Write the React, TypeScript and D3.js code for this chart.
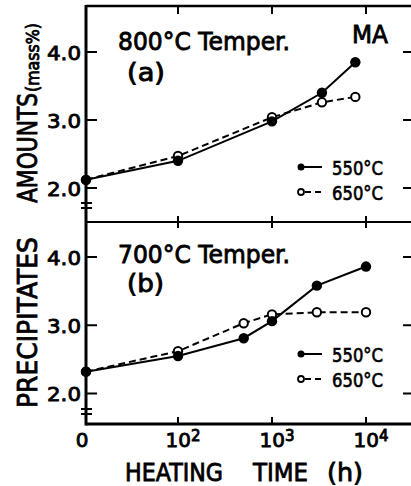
import React from "react";
import * as d3 from "d3";

// ---- data ----
const timesA = [0, 100, 1000, 3400, 7700];
const a550 = [2.12, 2.40, 2.98, 3.40, 3.85];
const a650 = [2.12, 2.47, 3.04, 3.26, 3.34];

const timesB = [0, 100, 500, 1000, 3000, 10000];
const b550 = [2.32, 2.55, 2.81, 3.06, 3.58, 3.86];
const b650 = [2.32, 2.62, 3.03, 3.16, 3.19, 3.19];

const yTicks = [2, 3, 4];
const yTickLabels = ["2.0", "3.0", "4.0"];
const xTicks = [100, 1000, 10000];
const xTickExp = ["2", "3", "4"];
const seriesNames = ["550°C", "650°C"];

const W = 411;
const H = 486;
const X0 = 86; // left axis (time = 0)
const XR = 413; // right frame
const TOP = 6;
const MID = 222;
const BOT = 424;

const xLog = d3.scaleLog().domain([100, 10000]).range([178, 366]);
const xPos = (t: number) => (t === 0 ? X0 : xLog(t));
const yTop = d3.scaleLinear().domain([2, 4]).range([188, 52]);
const yBot = d3.scaleLinear().domain([2, 4]).range([393.5, 257]);

const FONT = "'DejaVu Sans', sans-serif";
const TS = 0.85; // text stroke to thicken glyphs

function Series({ times, vals, y, filled }: { times: number[]; vals: number[]; y: any; filled: boolean }) {
  const line = d3
    .line<number>()
    .x((_, i) => xPos(times[i]))
    .y((v) => y(v));
  return (
    <g>
      <path
        d={line(vals) || ""}
        fill="none"
        stroke="#000"
        strokeWidth={2}
        strokeDasharray={filled ? undefined : "7,4"}
      />
      {vals.map((v, i) =>
        filled ? (
          <circle key={i} cx={xPos(times[i])} cy={y(v)} r={5.2} fill="#000" />
        ) : (
          <circle key={i} cx={xPos(times[i])} cy={y(v)} r={4.2} fill="#fff" stroke="#000" strokeWidth={2} />
        )
      )}
    </g>
  );
}

function Panel({ y, breakY }: { y: any; breakY: number[] }) {
  return (
    <g>
      {yTicks.map((t, i) => (
        <g key={"yt" + i}>
          <line x1={X0} x2={X0 + 11} y1={y(t)} y2={y(t)} stroke="#000" strokeWidth={2} />
          <line x1={XR - 10} x2={XR} y1={y(t)} y2={y(t)} stroke="#000" strokeWidth={2} />
          <text
            x={81}
            y={y(t) + 7.5}
            textAnchor="end"
            fontSize={20}
            fontFamily={FONT}
            stroke="#000"
            strokeWidth={TS}
            textLength={34}
            lengthAdjust="spacingAndGlyphs"
          >
            {yTickLabels[i]}
          </text>
        </g>
      ))}
      {breakY.map((b, i) => (
        <line key={"br" + i} x1={X0 - 5} x2={X0 + 6} y1={b} y2={b} stroke="#000" strokeWidth={2} />
      ))}
    </g>
  );
}

export default function App() {
  return (
    <svg
      width={W}
      height={H}
      viewBox={`0 0 ${W} ${H}`}
      style={{ position: "absolute", left: 0, top: 0, background: "#fff" }}
    >
      <rect x={0} y={0} width={W} height={H} fill="#fff" />
      {/* frame */}
      <line x1={X0} x2={XR} y1={TOP} y2={TOP} stroke="#000" strokeWidth={2.5} />
      <line x1={X0} x2={XR} y1={MID} y2={MID} stroke="#000" strokeWidth={2} />
      <line x1={X0} x2={XR} y1={BOT} y2={BOT} stroke="#000" strokeWidth={3} />
      <line x1={X0} x2={X0} y1={TOP - 1} y2={BOT + 1.5} stroke="#000" strokeWidth={3} />
      <line x1={XR} x2={XR} y1={TOP} y2={BOT} stroke="#000" strokeWidth={2} />

      {/* x ticks */}
      {xTicks.map((t, i) => (
        <g key={"xt" + i}>
          <line x1={xLog(t)} x2={xLog(t)} y1={TOP} y2={TOP + 8} stroke="#000" strokeWidth={2} />
          <line x1={xLog(t)} x2={xLog(t)} y1={MID - 6} y2={MID + 6} stroke="#000" strokeWidth={2} />
          <line x1={xLog(t)} x2={xLog(t)} y1={BOT - 7} y2={BOT} stroke="#000" strokeWidth={2} />
          <text
            x={xLog(t) - 12.5}
            y={447}
            fontSize={20}
            fontFamily={FONT}
            stroke="#000"
            strokeWidth={TS}
          >
            10
            <tspan dy={-6} fontSize={15}>
              {xTickExp[i]}
            </tspan>
          </text>
        </g>
      ))}
      <text x={82} y={447} textAnchor="middle" fontSize={20} fontFamily={FONT} stroke="#000" strokeWidth={TS}>
        0
      </text>

      <Panel y={yTop} breakY={[203, 208]} />
      <Panel y={yBot} breakY={[409, 414]} />

      {/* series */}
      <Series times={timesA} vals={a650} y={yTop} filled={false} />
      <Series times={timesA} vals={a550} y={yTop} filled={true} />
      <Series times={timesB} vals={b650} y={yBot} filled={false} />
      <Series times={timesB} vals={b550} y={yBot} filled={true} />

      {/* panel titles */}
      <g fontFamily={FONT} fontSize={24} stroke="#000" strokeWidth={TS}>
        <text x={118} y={50} textLength={172} lengthAdjust="spacingAndGlyphs">
          800°C Temper.
        </text>
        <text x={127} y={81} textLength={38} lengthAdjust="spacingAndGlyphs">
          (a)
        </text>
        <text x={352} y={43} textLength={36} lengthAdjust="spacingAndGlyphs">
          MA
        </text>
        <text x={118} y={263} textLength={172} lengthAdjust="spacingAndGlyphs">
          700°C Temper.
        </text>
        <text x={127} y={292} textLength={37} lengthAdjust="spacingAndGlyphs">
          (b)
        </text>
      </g>

      {/* legends */}
      {[
        { y1: 167, y2: 192 },
        { y1: 354, y2: 379 },
      ].map((lg, k) => (
        <g key={"lg" + k} fontFamily={FONT} fontSize={20} stroke="#000" strokeWidth={0.7}>
          <circle cx={301} cy={lg.y1} r={3.5} fill="#000" strokeWidth={0} />
          <line x1={303} x2={322} y1={lg.y1} y2={lg.y1} stroke="#000" strokeWidth={2} />
          <text x={332} y={lg.y1 + 8} textLength={51} lengthAdjust="spacingAndGlyphs">
            {seriesNames[0]}
          </text>
          <circle cx={301} cy={lg.y2} r={3} fill="#fff" stroke="#000" strokeWidth={1.8} />
          <line x1={305} x2={322} y1={lg.y2} y2={lg.y2} stroke="#000" strokeWidth={2} strokeDasharray="6,4" />
          <text x={332} y={lg.y2 + 8} textLength={51} lengthAdjust="spacingAndGlyphs">
            {seriesNames[1]}
          </text>
        </g>
      ))}

      {/* x axis title */}
      <g fontFamily={FONT} fontSize={25} stroke="#000" strokeWidth={TS}>
        <text x={125} y={481} textLength={98} lengthAdjust="spacingAndGlyphs">
          HEATING
        </text>
        <text x={253} y={481} textLength={55} lengthAdjust="spacingAndGlyphs">
          TIME
        </text>
        <text x={327} y={481} textLength={36} lengthAdjust="spacingAndGlyphs">
          (h)
        </text>
      </g>

      {/* y axis title */}
      <g transform="rotate(-90)" fontFamily={FONT} stroke="#000" strokeWidth={TS}>
        <text x={-408} y={37} fontSize={27} textLength={171} lengthAdjust="spacingAndGlyphs">
          PRECIPITATES
        </text>
        <text x={-203} y={37} fontSize={27} textLength={110} lengthAdjust="spacingAndGlyphs">
          AMOUNTS
        </text>
        <text x={-92} y={39} fontSize={17} textLength={69} lengthAdjust="spacingAndGlyphs">
          (mass%)
        </text>
      </g>
    </svg>
  );
}
